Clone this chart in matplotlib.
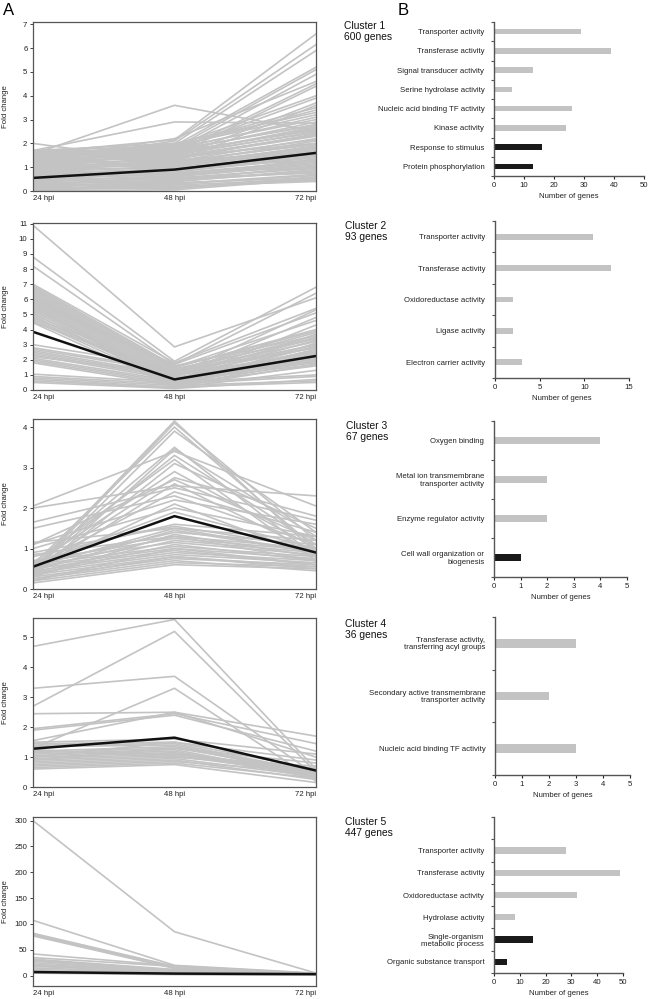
import numpy as np
import matplotlib.pyplot as plt

plt.rcParams['font.family'] = ['Liberation Sans', 'DejaVu Sans']

W, H = 650, 999

time_labels = ['24 hpi', '48 hpi', '72 hpi']

# expression profiles (24, 48, 72 hpi) per cluster
c1_profiles = [
    (0.05, 0.15, 0.45), (0.1, 0.25, 0.5), (0.15, 0.1, 0.6), (0.2, 0.3, 0.7),
    (0.25, 0.35, 0.55), (0.3, 0.45, 0.8), (0.35, 0.4, 0.9), (0.4, 0.5, 1.0),
    (0.45, 0.6, 1.1), (0.5, 0.55, 0.75), (0.55, 0.7, 1.2), (0.6, 0.65, 1.3),
    (0.65, 0.8, 1.4), (0.7, 0.75, 1.0), (0.75, 0.9, 1.5), (0.8, 0.85, 1.6),
    (0.85, 1.0, 1.7), (0.9, 0.95, 1.3), (0.95, 1.1, 1.8), (1.0, 1.05, 1.9),
    (1.05, 1.2, 2.0), (1.1, 1.15, 2.1), (1.15, 1.3, 1.6), (1.2, 1.25, 2.2),
    (1.25, 1.4, 2.3), (1.3, 1.35, 2.4), (1.35, 1.5, 2.5), (1.4, 1.45, 2.0),
    (1.45, 1.6, 2.6), (1.5, 1.55, 2.7), (1.55, 1.7, 2.8), (1.6, 1.65, 2.9),
    (1.62, 1.8, 3.0), (1.65, 1.75, 3.1), (1.68, 1.9, 3.2), (1.7, 2.0, 3.3),
    (1.5, 1.85, 3.4), (1.3, 1.95, 3.5), (0.1, 0.2, 0.4), (0.3, 0.15, 0.5),
    (0.08, 0.3, 0.65), (0.18, 0.4, 0.85), (0.28, 0.55, 0.95), (0.38, 0.65, 1.15),
    (0.48, 0.75, 1.25), (0.58, 0.85, 1.45), (0.68, 0.95, 1.55), (0.78, 1.05, 1.75),
    (0.88, 1.15, 1.85), (0.98, 1.25, 1.95), (1.08, 1.35, 2.15), (1.18, 1.45, 2.35),
    (1.28, 1.55, 2.45), (1.38, 1.65, 2.55), (1.48, 1.75, 2.75), (1.58, 1.55, 2.65),
    (0.02, 0.05, 0.5), (0.12, 0.45, 1.05), (0.22, 0.6, 1.35), (0.42, 0.9, 1.65),
    (2.0, 1.2, 1.5), (1.55, 3.6, 2.5), (1.7, 2.9, 2.85), (1.6, 2.15, 6.6),
    (1.2, 2.1, 6.15), (1.4, 2.0, 5.9), (1.0, 1.9, 5.2), (1.5, 1.8, 5.1),
    (0.9, 1.7, 4.9), (1.3, 2.2, 4.6), (1.1, 1.6, 4.5), (0.8, 1.5, 4.4),
    (1.45, 1.9, 4.0), (1.2, 1.75, 3.9), (0.7, 1.4, 3.7), (1.0, 1.2, 3.6),
]
c1_mean = (0.55, 0.9, 1.6)

c2_profiles = [
    (10.9, 2.85, 6.1), (8.8, 1.9, 6.8), (8.2, 1.7, 6.4),
    (7.0, 1.8, 5.4), (6.9, 1.6, 3.6), (6.8, 1.5, 4.0), (6.7, 1.4, 3.4),
    (6.6, 1.3, 3.8), (6.5, 1.2, 3.2), (6.4, 1.1, 3.0), (6.3, 1.0, 2.8),
    (6.2, 0.9, 3.5), (6.1, 0.8, 2.6), (6.0, 0.7, 3.3), (5.9, 0.6, 2.4),
    (5.8, 0.5, 2.9), (5.7, 0.4, 2.2), (5.6, 0.3, 3.1), (5.5, 0.5, 2.7),
    (5.4, 0.6, 2.0), (5.3, 0.4, 3.7), (5.2, 0.7, 2.5), (5.1, 0.3, 1.9),
    (5.0, 0.9, 4.8), (4.9, 0.5, 2.3), (4.8, 0.8, 1.8), (4.7, 0.6, 4.3),
    (4.6, 0.4, 2.1), (4.5, 1.0, 5.3), (4.45, 0.2, 1.7), (5.8, 1.7, 5.1),
    (6.1, 1.5, 4.6),
    (3.0, 1.5, 3.9), (2.8, 1.3, 2.8), (2.7, 1.2, 3.6), (2.6, 1.0, 2.5),
    (2.5, 0.9, 3.0), (2.4, 0.8, 2.2), (2.3, 0.7, 1.9), (2.2, 1.1, 3.4),
    (2.1, 0.6, 1.7), (2.0, 0.5, 2.0), (1.9, 0.4, 1.6), (1.8, 0.3, 2.4),
    (1.05, 0.5, 1.0), (0.9, 0.4, 0.9), (0.8, 0.3, 0.6), (0.7, 0.2, 0.5),
    (0.6, 0.15, 1.3), (0.5, 0.1, 0.7),
]
c2_mean = (3.85, 0.7, 2.25)

c3_profiles = [
    (0.5, 4.15, 0.9), (0.45, 4.1, 1.2), (0.6, 4.0, 1.0), (0.4, 3.9, 1.4),
    (0.55, 3.5, 0.8), (0.3, 3.45, 1.3), (2.05, 3.4, 2.05), (0.5, 3.3, 1.1),
    (0.65, 3.2, 0.7), (0.35, 3.1, 1.5), (2.0, 2.55, 2.3), (0.6, 2.9, 1.0),
    (0.5, 2.75, 1.8), (1.1, 2.7, 1.2), (0.4, 2.6, 0.9), (1.65, 2.5, 1.7),
    (0.55, 2.4, 1.4), (1.5, 2.3, 1.1), (1.1, 2.2, 1.6), (0.45, 2.1, 0.8),
    (1.0, 2.0, 1.3), (0.6, 1.9, 1.0),
    (0.15, 0.6, 0.5), (0.2, 0.65, 0.55), (0.25, 0.7, 0.45), (0.3, 0.75, 0.6),
    (0.35, 0.8, 0.5), (0.4, 0.85, 0.65), (0.45, 0.9, 0.7), (0.5, 0.95, 0.6),
    (0.55, 1.0, 0.75), (0.6, 1.05, 0.8), (0.35, 1.1, 0.7), (0.65, 1.15, 0.85),
    (0.4, 1.2, 0.9), (0.7, 1.25, 0.95), (0.5, 1.3, 1.0), (0.3, 1.35, 0.8),
    (0.6, 1.4, 1.1), (0.45, 1.45, 0.9), (0.55, 1.5, 1.2), (0.9, 1.55, 1.0),
    (0.8, 1.6, 1.3), (0.25, 0.8, 0.55), (0.2, 1.0, 0.6), (1.15, 1.5, 0.9),
    (0.85, 1.3, 0.7),
]
c3_mean = (0.55, 1.8, 0.9)

c4_profiles = [
    (4.7, 5.6, 0.6), (2.7, 5.2, 0.5), (3.3, 3.7, 0.4), (1.3, 3.3, 0.2),
    (2.45, 2.5, 1.7), (1.95, 2.45, 1.45), (1.9, 2.4, 1.2), (1.55, 2.5, 1.0),
    (1.5, 1.6, 1.1), (1.45, 1.5, 0.6), (1.4, 1.45, 0.5), (1.35, 1.4, 0.45),
    (1.2, 1.35, 0.4), (1.15, 1.3, 0.55), (1.1, 1.25, 0.35), (1.05, 1.2, 0.3),
    (1.0, 1.15, 0.5), (0.95, 1.1, 0.45), (0.9, 1.05, 0.4), (0.85, 1.0, 0.6),
    (0.8, 0.95, 0.35), (0.75, 0.9, 0.25), (0.7, 0.85, 0.5), (0.65, 0.8, 0.3),
    (0.6, 0.75, 0.15), (1.25, 1.0, 0.7), (1.0, 1.5, 0.9), (0.9, 1.3, 0.8),
    (1.2, 1.1, 0.6),
]
c4_mean = (1.28, 1.65, 0.55)

c5_profiles = [
    (300, 85, 5), (107, 20, 5), (82, 18, 4), (80, 17, 4), (79, 16, 4),
    (78, 15, 4), (77, 14, 3), (42, 19, 4), (35, 18, 3), (32, 12, 3),
    (30, 11, 3), (28, 10, 3), (25, 9, 3), (22, 8, 2), (20, 8, 2),
    (18, 7, 2), (15, 6, 2), (12, 5, 2), (10, 4, 2), (8, 3, 1),
    (6, 3, 1), (5, 2, 1),
]
c5_mean = (7, 4, 3)

cluster_names = ['Cluster 1\n600 genes', 'Cluster 2\n93 genes', 'Cluster 3\n67 genes',
                 'Cluster 4\n36 genes', 'Cluster 5\n447 genes']

# GO terms, top to bottom; 'f' = molecular function (grey), 'p' = biological process (black)
go1_terms = ['Transporter activity', 'Transferase activity', 'Signal transducer activity',
             'Serine hydrolase activity', 'Nucleic acid binding TF activity', 'Kinase activity',
             'Response to stimulus', 'Protein phosphorylation']
go1_counts = [29, 39, 13, 6, 26, 24, 16, 13]
go1_kind = ['f', 'f', 'f', 'f', 'f', 'f', 'p', 'p']

go2_terms = ['Transporter activity', 'Transferase activity', 'Oxidoreductase activity',
             'Ligase activity', 'Electron carrier activity']
go2_counts = [11, 13, 2, 2, 3]
go2_kind = ['f', 'f', 'f', 'f', 'f']

go3_terms = ['Oxygen binding', 'Metal ion transmembrane\ntransporter activity',
             'Enzyme regulator activity', 'Cell wall organization or\nbiogenesis']
go3_counts = [4, 2, 2, 1]
go3_kind = ['f', 'f', 'f', 'p']

go4_terms = ['Transferase activity,\ntransferring acyl groups',
             'Secondary active transmembrane\ntransporter activity',
             'Nucleic acid binding TF activity']
go4_counts = [3, 2, 3]
go4_kind = ['f', 'f', 'f']

go5_terms = ['Transporter activity', 'Transferase activity', 'Oxidoreductase activity',
             'Hydrolase activity', 'Single-organism\nmetabolic process',
             'Organic substance transport']
go5_counts = [28, 49, 32, 8, 15, 5]
go5_kind = ['f', 'f', 'f', 'f', 'p', 'p']

profiles = [c1_profiles, c2_profiles, c3_profiles, c4_profiles, c5_profiles]
means = [c1_mean, c2_mean, c3_mean, c4_mean, c5_mean]
go_terms = [go1_terms, go2_terms, go3_terms, go4_terms, go5_terms]
go_counts = [go1_counts, go2_counts, go3_counts, go4_counts, go5_counts]
go_kind = [go1_kind, go2_kind, go3_kind, go4_kind, go5_kind]

# layout in pixels (left, top, right, bottom)
left_boxes = [(33, 22, 316, 191), (33, 223, 316, 390), (33, 419, 316, 589),
              (33, 618, 316, 787), (33, 817, 316, 986)]
left_ylim = [(0, 7.1), (0, 11.05), (0, 4.2), (0, 5.65), (-20, 307)]
left_yticks = [range(0, 8), range(0, 12), range(0, 5), range(0, 6), range(0, 301, 50)]

right_boxes = [(494, 22, 644, 176), (495, 221, 629, 378), (494, 421, 627, 577),
               (495, 617, 630, 775), (494, 817, 623, 973)]
right_xmax = [50, 15, 5, 5, 50]
right_xstep = [10, 5, 1, 1, 10]
right_extra = [0, 0, 0, 0, 1]
bar_h = [0.28, 0.18, 0.17, 0.16, 0.28]
label_xy = [(344, 21), (345, 221), (346, 421), (345, 619), (345, 817)]

grey = '#c3c3c3'
spine = '#555555'
fs = 5.6
fig = plt.figure(figsize=(W / 100, H / 100), dpi=100)


def px_axes(box):
    l, t, r, b = box
    return fig.add_axes([l / W, 1 - b / H, (r - l) / W, (b - t) / H])


for i in range(5):
    # --- panel A: profiles
    ax = px_axes(left_boxes[i])
    x = np.arange(3)
    for p in profiles[i]:
        ax.plot(x, p, color=grey, lw=1.2, solid_joinstyle='miter')
    ax.plot(x, means[i], color='#111111', lw=1.8)
    ax.set_xlim(0, 2)
    ax.set_ylim(*left_ylim[i])
    ax.set_yticks(list(left_yticks[i]))
    ax.set_xticks(x)
    ax.set_xticklabels(time_labels)
    for lab, ha in zip(ax.get_xticklabels(), ['left', 'center', 'right']):
        lab.set_ha(ha)
    ax.tick_params(axis='both', labelsize=fs, colors='#222222', length=2, width=0.6, pad=2)
    ax.tick_params(axis='x', length=0, pad=3)
    for s in ax.spines.values():
        s.set_color(spine)
        s.set_linewidth(0.9)
    ax.set_ylabel('Fold change', fontsize=fs, color='#222222')
    ax.yaxis.set_label_coords(-24 / (left_boxes[i][2] - left_boxes[i][0]), 0.5)

    # --- panel B: GO terms
    bx = px_axes(right_boxes[i])
    n = len(go_terms[i])
    ypos = np.arange(n)[::-1]
    colors = [grey if k == 'f' else '#1a1a1a' for k in go_kind[i]]
    bx.barh(ypos, go_counts[i], height=bar_h[i], color=colors, align='center')
    bx.set_ylim(-0.5, n - 0.5 + right_extra[i])
    bx.set_xlim(0, right_xmax[i])
    bx.set_xticks(np.arange(0, right_xmax[i] + 1, right_xstep[i]))
    bx.set_yticks(ypos)
    bx.set_yticklabels(go_terms[i], fontsize=fs, color='#222222', linespacing=1.0)
    bx.set_yticks(np.arange(-0.5, n + right_extra[i]), minor=True)
    bx.tick_params(axis='y', which='major', length=0, pad=7)
    bx.tick_params(axis='y', which='minor', length=2.5, width=0.8, color=spine)
    bx.tick_params(axis='x', labelsize=fs, colors='#222222', length=2.5, width=0.8, pad=2)
    for s in ['top', 'right']:
        bx.spines[s].set_visible(False)
    for s in ['left', 'bottom']:
        bx.spines[s].set_color(spine)
        bx.spines[s].set_linewidth(1.0)
    bx.set_xlabel('Number of genes', fontsize=fs, color='#222222', labelpad=3)

    lx, ly = label_xy[i]
    fig.text(lx / W, 1 - ly / H, cluster_names[i], fontsize=7.4, va='top', ha='left',
             linespacing=1.15, color='#111111')

fig.text(3 / W, 1 - 3 / H, 'A', fontsize=12, va='top', ha='left')
fig.text(398 / W, 1 - 3 / H, 'B', fontsize=12, va='top', ha='left')

fig.savefig('out.png', dpi=100)
